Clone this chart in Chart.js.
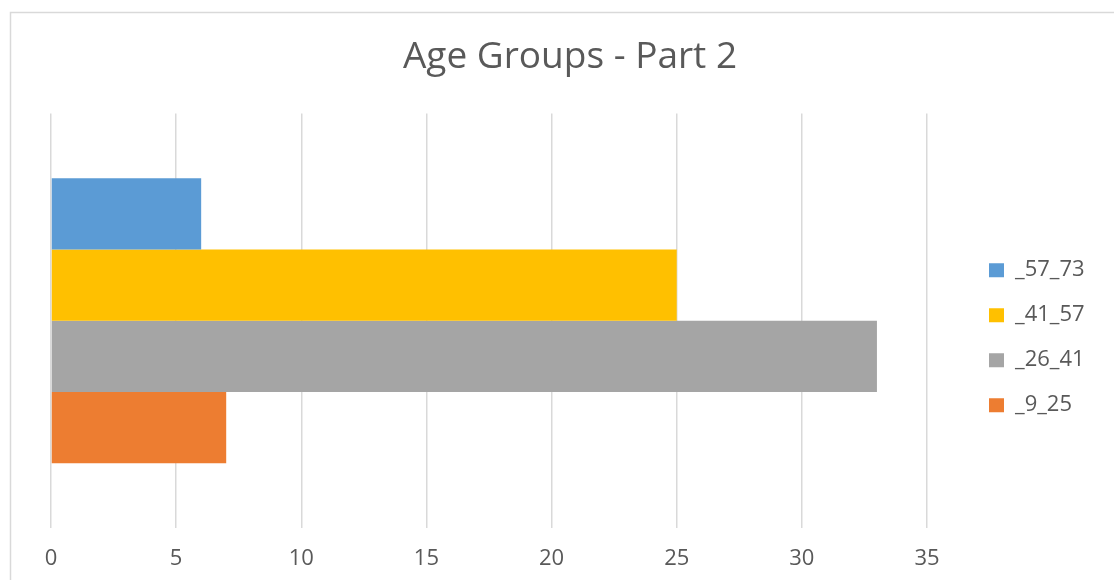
<!DOCTYPE html>
<html>
<head>
<meta charset="utf-8">
<script src="https://cdn.jsdelivr.net/npm/chart.js@4.4.1/dist/chart.umd.min.js"></script>
<style>
    html, body { margin: 0; padding: 0; background: #fff; }
</style>
</head>
<body>
<canvas id="myChart" width="1114" height="580"></canvas>
<script>
// one category, four age groups (top to bottom)
const categories = [''];
const seriesNames = ['_57_73', '_41_57', '_26_41', '_9_25'];
const seriesValues = [[6], [25], [33], [7]];
const seriesColors = ['#5b9bd5', '#ffc000', '#a5a5a5', '#ed7d31'];
const xMin = 0, xMax = 35, xStep = 5;

const textColor = '#595959';

// white background plus the thin frame around the chart
const framePlugin = {
    id: 'frame',
    beforeDraw(chart) {
        const c = chart.ctx;
        c.save();
        c.fillStyle = '#fff';
        c.fillRect(0, 0, chart.width, chart.height);
        c.strokeStyle = '#d9d9d9';
        c.lineWidth = 1.5;
        c.strokeRect(10.5, 12.5, chart.width + 20, chart.height + 20);
        c.restore();
    }
};

// push the legend a bit further away from the plot
const legendOffset = {
    id: 'legendOffset',
    afterLayout(chart) {
        const lg = chart.legend;
        if (!lg) return;
        lg.left += 39;
        lg.right += 39;
        lg.top = chart.chartArea.top + 17;
        lg.bottom = chart.chartArea.bottom + 17;
    }
};

var ctx = document.getElementById('myChart').getContext('2d');
var myChart = new Chart(ctx, {
    type: 'bar',
    data: {
        labels: categories,
        datasets: seriesNames.map((name, i) => ({
            label: name,
            data: seriesValues[i],
            backgroundColor: seriesColors[i],
            borderWidth: 0,
            categoryPercentage: 0.6875,
            barPercentage: 1
        }))
    },
    options: {
        indexAxis: 'y',
        responsive: false,
        animation: false,
        devicePixelRatio: 1,
        plugins: {
            title: {
                display: true,
                text: 'Age Groups - Part 2',
                color: textColor,
                font: { family: 'Open Sans', size: 37, weight: 'normal' },
                padding: { top: 35, bottom: 34 }
            },
            legend: {
                position: 'right',
                labels: {
                    color: textColor,
                    font: { family: 'Open Sans', size: 22 },
                    boxWidth: 15,
                    boxHeight: 14,
                    padding: 23
                }
            },
            tooltip: { enabled: false }
        },
        scales: {
            x: {
                min: xMin,
                max: xMax,
                ticks: {
                    stepSize: xStep,
                    color: textColor,
                    font: { family: 'Open Sans', size: 22 },
                    padding: 18
                },
                grid: { color: '#d9d9d9', lineWidth: 1.5, drawTicks: false },
                border: { display: false },
                afterFit(scale) {
                    scale.height = 45;
                    scale.paddingRight = 187; // room for the legend on the right
                }
            },
            y: {
                display: false
            }
        },
        layout: {
            padding: { left: 51, right: 25, top: 0, bottom: 7 }
        }
    },
    plugins: [framePlugin, legendOffset]
});
</script>
</body>
</html>
